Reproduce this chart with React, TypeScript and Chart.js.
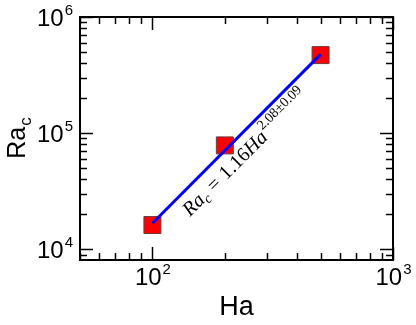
import React, { useEffect, useRef } from 'react';
import { Chart, registerables } from 'chart.js';

Chart.register(...registerables);

// ---- data ----
const haValues = [100, 200, 500];
const raValues = [16200, 78500, 470000];
const fitHa = [100, 500];
const fitRa = [16800, 477000];
const xDecades = [2, 3];
const yDecades = [4, 5, 6];
const xRange = [50, 1000];
const yRange = [8100, 1000000];
const xTitle = 'Ha';
const yTitleMain = 'Ra';
const yTitleSub = 'c';
const fitLabelParts = [
  { t: 'Ra', kind: 'it' },
  { t: 'c', kind: 'sub' },
  { t: '=', kind: 'op' },
  { t: '1.16', kind: 'up' },
  { t: 'Ha', kind: 'it' },
  { t: '2.08±0.09', kind: 'sup' },
];

const SANS = '"Liberation Sans", Arial, sans-serif';
const SERIF = '"Liberation Serif", "Times New Roman", serif';

const decorPlugin = {
  id: 'decor',
  afterDraw(chart: any) {
    const { ctx, chartArea: a, scales } = chart;
    const xs = scales.x;
    const ys = scales.y;
    ctx.save();
    ctx.strokeStyle = '#000';
    ctx.lineCap = 'butt';
    const line = (x1: number, y1: number, x2: number, y2: number) => {
      ctx.beginPath();
      ctx.moveTo(x1, y1);
      ctx.lineTo(x2, y2);
      ctx.stroke();
    };
    ctx.lineWidth = 1.5;
    // x ticks (bottom + top)
    for (let d = 0; d <= 4; d++) {
      for (let k = 1; k <= 9; k++) {
        const v = k * Math.pow(10, d);
        if (v < xRange[0] - 1e-9 || v > xRange[1] + 1e-9) continue;
        const px = Math.round(xs.getPixelForValue(v)) + 0.5;
        const len = k === 1 ? 13 : 7;
        line(px, a.bottom, px, a.bottom - len);
        line(px, a.top, px, a.top + len);
      }
    }
    // y ticks (left + right)
    for (let d = 2; d <= 7; d++) {
      for (let k = 1; k <= 9; k++) {
        const v = k * Math.pow(10, d);
        if (v < yRange[0] - 1e-9 || v > yRange[1] + 1e-9) continue;
        const py = Math.round(ys.getPixelForValue(v)) + 0.5;
        const len = k === 1 ? 13 : 7;
        line(a.left, py, a.left + len, py);
        line(a.right, py, a.right - len, py);
      }
    }
    // frame
    ctx.lineWidth = 2;
    ctx.strokeRect(a.left, a.top, a.right - a.left, a.bottom - a.top);

    // tick labels
    ctx.fillStyle = '#000';
    const bigFont = `24px ${SANS}`;
    const supFont = `15px ${SANS}`;
    ctx.textBaseline = 'alphabetic';
    // x labels
    xDecades.forEach((e) => {
      const px = xs.getPixelForValue(Math.pow(10, e));
      ctx.font = bigFont;
      const w1 = ctx.measureText('10').width;
      ctx.font = supFont;
      const w2 = ctx.measureText(String(e)).width;
      const start = px - (w1 + w2) / 2;
      ctx.font = bigFont;
      ctx.textAlign = 'left';
      ctx.fillText('10', start, a.bottom + 25);
      ctx.font = supFont;
      ctx.fillText(String(e), start + w1 + 1, a.bottom + 14);
    });
    // y labels
    yDecades.forEach((e) => {
      const py = ys.getPixelForValue(Math.pow(10, e));
      ctx.font = supFont;
      const w2 = ctx.measureText(String(e)).width;
      ctx.textAlign = 'right';
      ctx.fillText(String(e), a.left - 7, py - 2);
      ctx.font = bigFont;
      ctx.fillText('10', a.left - 7 - w2 - 1, py + 8.6);
    });

    // x title
    ctx.font = `27px ${SANS}`;
    ctx.textAlign = 'center';
    ctx.fillText(xTitle, (a.left + a.right) / 2, 315);

    // y title (rotated)
    ctx.save();
    ctx.translate(25, (a.top + a.bottom) / 2);
    ctx.rotate(-Math.PI / 2);
    ctx.font = `25px ${SANS}`;
    const wm = ctx.measureText(yTitleMain).width;
    ctx.font = `17px ${SANS}`;
    const ws = ctx.measureText(yTitleSub).width;
    const st = -(wm + ws) / 2;
    ctx.textAlign = 'left';
    ctx.font = `25px ${SANS}`;
    ctx.fillText(yTitleMain, st, 0);
    ctx.font = `17px ${SANS}`;
    ctx.fillText(yTitleSub, st + wm + 1, 6);
    ctx.restore();

    // fit annotation
    ctx.save();
    ctx.translate(190, 217);
    ctx.rotate(-Math.PI / 4);
    ctx.textAlign = 'left';
    let x = 0;
    fitLabelParts.forEach((p) => {
      let font = '';
      let dy = 0;
      let pre = 0;
      let post = 0;
      if (p.kind === 'it') font = `italic 20px ${SERIF}`;
      else if (p.kind === 'up') font = `20px ${SERIF}`;
      else if (p.kind === 'op') { font = `20px ${SERIF}`; pre = 6; post = 6; }
      else if (p.kind === 'sub') { font = `italic 14px ${SERIF}`; dy = 4; }
      else { font = `14px ${SERIF}`; dy = -10; pre = 1; }
      ctx.font = font;
      x += pre;
      ctx.fillText(p.t, x, dy);
      x += ctx.measureText(p.t).width + post;
    });
    ctx.restore();

    ctx.restore();
  },
};

export default function App() {
  const ref = useRef<HTMLCanvasElement | null>(null);
  useEffect(() => {
    if (!ref.current) return;
    const chart = new Chart(ref.current, {
      type: 'scatter',
      data: {
        datasets: [
          {
            label: 'fit',
            data: fitHa.map((h, i) => ({ x: h, y: fitRa[i] })),
            showLine: true,
            borderColor: '#0000ff',
            borderWidth: 3,
            pointRadius: 0,
            order: 0,
          } as any,
          {
            label: 'Ra_c',
            data: haValues.map((h, i) => ({ x: h, y: raValues[i] })),
            pointStyle: 'rect',
            pointRadius: 12,
            pointHoverRadius: 12,
            backgroundColor: '#ff0000',
            borderColor: '#6e3a3a',
            borderWidth: 1,
            order: 1,
          } as any,
        ],
      },
      options: {
        animation: false,
        responsive: false,
        events: [],
        layout: { padding: { left: 80, top: 17, right: 23, bottom: 65 } },
        plugins: { legend: { display: false }, tooltip: { enabled: false } },
        scales: {
          x: { type: 'logarithmic', min: xRange[0], max: xRange[1], bounds: 'data', display: false },
          y: { type: 'logarithmic', min: yRange[0], max: yRange[1], bounds: 'data', display: false },
        },
      },
      plugins: [decorPlugin],
    });
    return () => chart.destroy();
  }, []);
  return (
    <div style={{ position: 'fixed', left: 0, top: 0, width: 416, height: 325, background: '#fff' }}>
      <canvas ref={ref} width={416} height={325} style={{ width: 416, height: 325, display: 'block' }} />
    </div>
  );
}
